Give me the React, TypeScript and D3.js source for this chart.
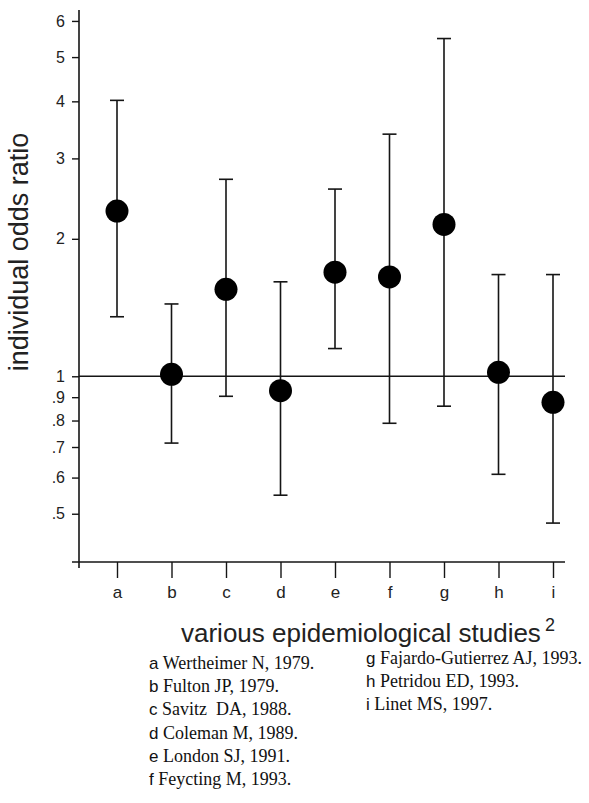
import React, { useEffect, useRef } from 'react';
import * as d3 from 'd3';

// study letters on the x axis
const studies = ['a', 'b', 'c', 'd', 'e', 'f', 'g', 'h', 'i'];
// point estimates and 95% confidence limits
const oddsRatio = [2.3, 1.01, 1.55, 0.93, 1.69, 1.65, 2.15, 1.02, 0.877];
const lowerCI = [1.35, 0.714, 0.904, 0.549, 1.15, 0.789, 0.86, 0.61, 0.477];
const upperCI = [4.02, 1.44, 2.7, 1.61, 2.57, 3.39, 5.49, 1.67, 1.67];

const yTicks = [6, 5, 4, 3, 2, 1, 0.9, 0.8, 0.7, 0.6, 0.5];
const yTickLabels = ['6', '5', '4', '3', '2', '1', '.9', '.8', '.7', '.6', '.5'];

const refLeft = ['a', 'b', 'c', 'd', 'e', 'f'];
const refLeftText = [
  'Wertheimer N, 1979.',
  'Fulton JP, 1979.',
  'Savitz  DA, 1988.',
  'Coleman M, 1989.',
  'London SJ, 1991.',
  'Feycting M, 1993.',
];
const refRight = ['g', 'h', 'i'];
const refRightText = [
  'Fajardo-Gutierrez AJ, 1993.',
  'Petridou ED, 1993.',
  'Linet MS, 1997.',
];

const SANS = '"Liberation Sans", Arial, sans-serif';
const SERIF = '"Liberation Serif", "Times New Roman", serif';

function App() {
  const ref = useRef<SVGSVGElement>(null);

  useEffect(() => {
    const svg = d3.select(ref.current);
    svg.selectAll('*').remove();

    const y = d3.scaleLog().domain([0.392, 6.34]).range([562, 10]);
    const x = d3.scalePoint<string>().domain(studies).range([117, 553]);
    const axisX = 79;
    const right = 565;
    const ink = '#151515';

    // y axis
    const gy = svg.append('g')
      .attr('transform', `translate(${axisX},0)`)
      .call(d3.axisLeft(y)
        .tickValues(yTicks)
        .tickFormat((d, i) => yTickLabels[i])
        .tickSize(7)
        .tickPadding(7));
    gy.select('.domain').remove();
    gy.selectAll('line').attr('stroke', ink).attr('stroke-width', 1.4);
    gy.selectAll('text')
      .attr('font-family', SANS)
      .attr('font-size', 16)
      .attr('fill', '#222');

    svg.append('line')
      .attr('x1', axisX).attr('x2', axisX)
      .attr('y1', y.range()[1]).attr('y2', y.range()[0] + 6)
      .attr('stroke', ink).attr('stroke-width', 1.6);

    // x axis
    const gx = svg.append('g')
      .attr('transform', `translate(0,${y.range()[0]})`)
      .call(d3.axisBottom(x).tickSize(16).tickPadding(8));
    gx.select('.domain').remove();
    gx.selectAll('line').attr('stroke', ink).attr('stroke-width', 1.4);
    gx.selectAll('text')
      .attr('font-family', SANS)
      .attr('font-size', 17)
      .attr('fill', '#222');

    svg.append('line')
      .attr('x1', axisX - 7).attr('x2', right)
      .attr('y1', y.range()[0]).attr('y2', y.range()[0])
      .attr('stroke', ink).attr('stroke-width', 1.6);

    // reference line at OR = 1
    svg.append('line')
      .attr('x1', axisX).attr('x2', right)
      .attr('y1', y(1)).attr('y2', y(1))
      .attr('stroke', ink).attr('stroke-width', 1.6);

    const rows = studies.map((s, i) => ({ s, or: oddsRatio[i], lo: lowerCI[i], hi: upperCI[i] }));
    const cap = 7;

    const bars = svg.append('g')
      .attr('stroke', ink)
      .attr('stroke-width', 1.6)
      .selectAll('g')
      .data(rows)
      .join('g');
    bars.append('line')
      .attr('x1', d => x(d.s)!).attr('x2', d => x(d.s)!)
      .attr('y1', d => y(d.hi)).attr('y2', d => y(d.lo));
    bars.append('line')
      .attr('x1', d => x(d.s)! - cap).attr('x2', d => x(d.s)! + cap)
      .attr('y1', d => y(d.hi)).attr('y2', d => y(d.hi));
    bars.append('line')
      .attr('x1', d => x(d.s)! - cap).attr('x2', d => x(d.s)! + cap)
      .attr('y1', d => y(d.lo)).attr('y2', d => y(d.lo));

    svg.append('g')
      .selectAll('circle')
      .data(rows)
      .join('circle')
        .attr('cx', d => x(d.s)!)
        .attr('cy', d => y(d.or))
        .attr('r', 11.5)
        .attr('fill', '#000');

    // axis titles
    svg.append('text')
      .attr('transform', `translate(28,252) rotate(-90)`)
      .attr('text-anchor', 'middle')
      .attr('font-family', SANS)
      .attr('font-size', 27)
      .attr('fill', '#222')
      .text('individual odds ratio');

    const xt = svg.append('text')
      .attr('x', 181)
      .attr('y', 642)
      .attr('font-family', SANS)
      .attr('font-size', 26)
      .attr('fill', '#222');
    xt.append('tspan').text('various epidemiological studies');
    xt.append('tspan').attr('dx', 4).attr('dy', -11).attr('font-size', 18).text('2');

    // reference list
    const refBlock = (letters, texts, x0, y0) => {
      const t = svg.append('g')
        .selectAll('text')
        .data(letters)
        .join('text')
          .attr('x', x0)
          .attr('y', (d, i) => y0 + i * 23.2)
          .attr('fill', '#111')
          .style('white-space', 'pre');
      t.append('tspan')
        .attr('font-family', SANS)
        .attr('font-size', 17)
        .text(d => d);
      t.append('tspan')
        .attr('font-family', SERIF)
        .attr('font-size', 18)
        .text((d, i) => ' ' + texts[i]);
    };
    refBlock(refLeft, refLeftText, 149, 669);
    refBlock(refRight, refRightText, 366, 664);
  }, []);

  return (
    <svg
      ref={ref}
      width={589}
      height={803}
      style={{ position: 'absolute', left: 0, top: 0, background: '#fff' }}
    />
  );
}

export default App;
